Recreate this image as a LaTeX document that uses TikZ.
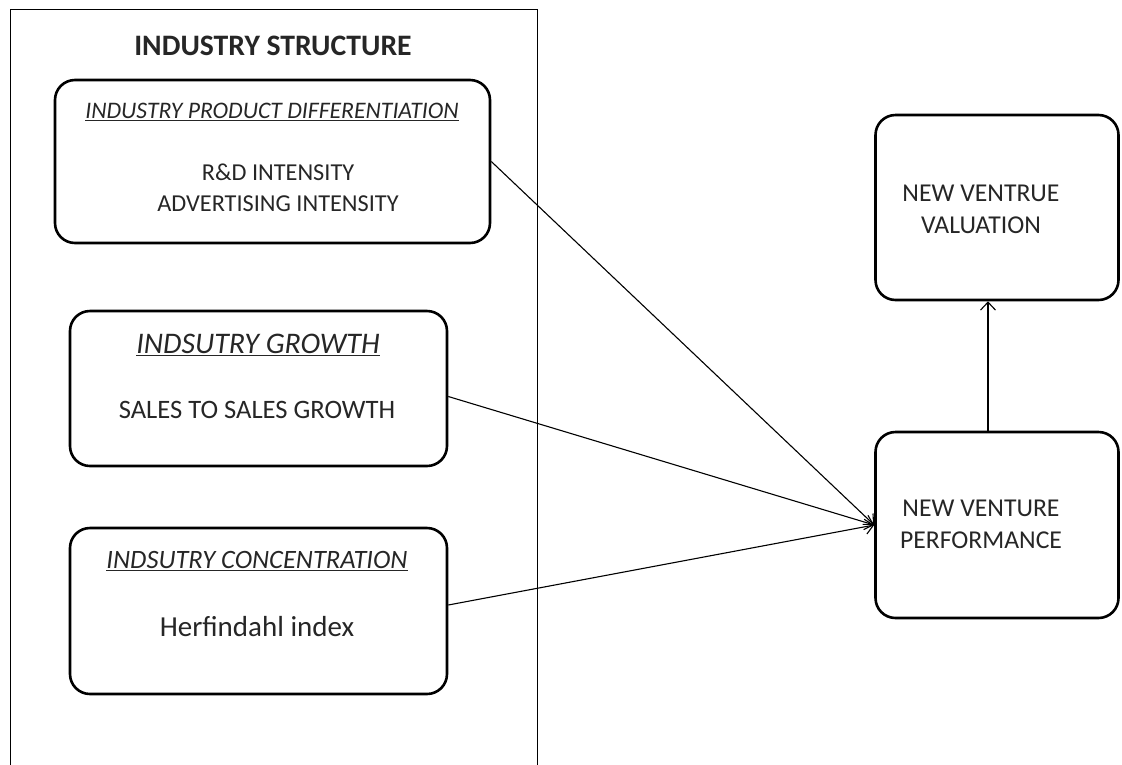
\documentclass[tikz,border=0pt]{standalone}
\usepackage{fontspec}
\setmainfont{Carlito}
\usetikzlibrary{arrows.meta}

\tikzset{every node/.style={text=black!85,inner sep=0pt}}
\tikzset{factor/.style={draw=black,line width=2.6pt,rounded corners=20pt}}
\tikzstyle{link}=[line width=1.1pt,-{Straight Barb[length=8pt,width=15pt,line width=1.1pt]}]

\begin{document}
\begin{tikzpicture}[x=1pt,y=-1pt]
            \useasboundingbox (0,0) rectangle (1122,764);
            \draw [line width=1pt] (10,9) rectangle (537,770);
            \node (head) at (273,46) {\fontsize{29.7}{32}\selectfont\bfseries INDUSTRY STRUCTURE};

            \node [factor,minimum width=435,minimum height=163] (diff) at (272.5,161.5) {};
            \node (diffhead) at (272,112) {\fontsize{23.7}{26}\selectfont\underline{\itshape INDUSTRY PRODUCT DIFFERENTIATION}};
            \node (diffvar) at (278,188) [align=center,font=\fontsize{24.3}{31}\selectfont] {R\&D INTENSITY\\ADVERTISING INTENSITY};

            \node [factor,minimum width=377,minimum height=155] (grow) at (258.5,388.5) {};
            \node (growhead) at (258,345) {\fontsize{29.9}{32}\selectfont\underline{\itshape INDSUTRY GROWTH}};
            \node (growvar) at (257,410) {\fontsize{26.6}{28}\selectfont SALES TO SALES GROWTH};

            \node [factor,minimum width=377,minimum height=166] (conc) at (258.5,611) {};
            \node (conchead) at (257,561) {\fontsize{26.5}{28}\selectfont\underline{\itshape INDSUTRY CONCENTRATION}};
            \node (concvar) at (257,627) {\fontsize{29}{31}\selectfont Herfindahl index};

            \node [factor,minimum width=243,minimum height=185] (valu) at (997,207.5) {};
            \node (valutext) at (981,209) [align=center,font=\fontsize{25.7}{32}\selectfont] {NEW VENTRUE\\VALUATION};

            \node [factor,minimum width=243,minimum height=186] (perf) at (997,525) {};
            \node (perftext) at (981,524) [align=center,font=\fontsize{25.7}{32}\selectfont] {NEW VENTURE\\PERFORMANCE};

            \draw [link] (diff.east) -- (perf.west);
            \draw [link] ([yshift=-8]grow.east) -- (perf.west);
            \draw [link] ([yshift=6]conc.east) -- (perf.west);
            \draw [link] ([xshift=-9]perf.north) -- ([xshift=-9]valu.south);
        \end{tikzpicture}
\end{document}
